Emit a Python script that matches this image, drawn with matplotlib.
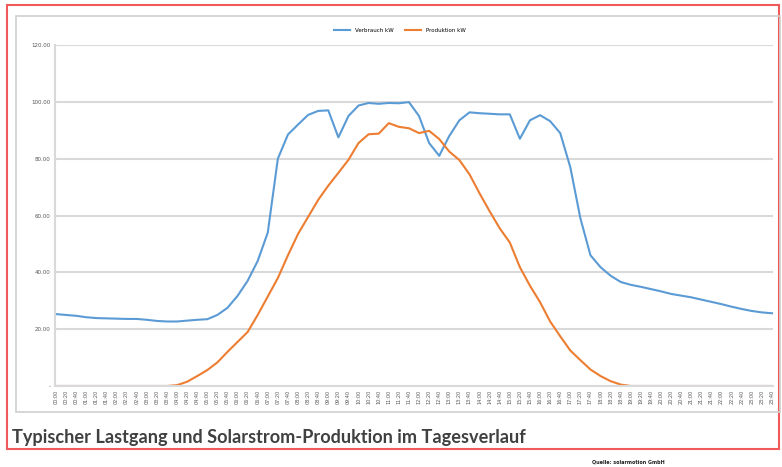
import matplotlib
matplotlib.use("Agg")
import matplotlib.pyplot as plt
from matplotlib.patches import Rectangle

# time labels, every 20 minutes
times = ["%02d:%02d" % (h, m) for h in range(24) for m in (0, 20, 40)]

verbrauch = [25.3, 25.0, 24.7, 24.2, 23.9, 23.8, 23.7, 23.6, 23.6, 23.3,
             22.9, 22.7, 22.7, 23.0, 23.3, 23.5, 25.0, 27.5, 31.7, 37.0,
             44.0, 54.0, 80.0, 88.5, 92.0, 95.4, 96.8, 97.0, 87.5, 95.0,
             98.7, 99.6, 99.3, 99.6, 99.5, 99.9, 95.0, 85.5, 81.0, 88.0,
             93.5, 96.3, 96.0, 95.8, 95.6, 95.6, 87.0, 93.5, 95.3, 93.2,
             89.0, 77.0, 59.0, 46.0, 41.8, 38.8, 36.6, 35.6, 34.9, 34.1,
             33.3, 32.4, 31.8, 31.2, 30.4, 29.6, 28.8, 27.9, 27.1, 26.4,
             25.9, 25.6]

produktion = [0, 0, 0, 0, 0, 0, 0, 0, 0, 0,
              0, 0, 0.3, 1.5, 3.5, 5.6, 8.3, 12.0, 15.5, 19.0,
              25.0, 31.5, 38.0, 46.0, 53.5, 59.5, 65.5, 70.5, 75.0, 79.6,
              85.5, 88.6, 88.8, 92.5, 91.2, 90.7, 89.0, 89.8, 86.9, 82.5,
              79.5, 74.5, 67.8, 61.5, 55.5, 50.5, 41.8, 35.3, 29.5, 22.7,
              17.5, 12.5, 9.1, 5.8, 3.5, 1.7, 0.5, 0, 0, 0,
              0, 0, 0, 0, 0, 0, 0, 0, 0, 0,
              0, 0]

yticks = [0, 20, 40, 60, 80, 100, 120]
ylabels = ["-", "20.00", "40.00", "60.00", "80.00", "100.00", "120.00"]

W, H = 782, 467
fig = plt.figure(figsize=(W / 100, H / 100), dpi=100)

# outer red frame and inner chart box
fig.patches.append(Rectangle((7 / W, 1 - 449 / H), 772 / W, 444 / H,
                             transform=fig.transFigure, fill=False,
                             edgecolor="#f05a5a", linewidth=1.5))
fig.patches.append(Rectangle((16 / W, 1 - 412 / H), 764 / W, 396 / H,
                             transform=fig.transFigure, fill=False,
                             edgecolor="#d0d0d0", linewidth=1.2))

ax = fig.add_axes([55 / W, 1 - 386 / H, 718 / W, 341 / H])
x = list(range(len(times)))
ax.plot(x, verbrauch, color="#5b9bd5", lw=1.5, label="Verbrauch kW")
ax.plot(x, produktion, color="#ed7d31", lw=1.5, label="Produktion kW")

ax.set_xlim(-0.1, len(times) - 0.9)
ax.set_ylim(0, 120)
ax.set_yticks(yticks)
ax.set_yticklabels(ylabels, fontsize=4, color="#555555")
ax.set_xticks(x)
ax.set_xticklabels(times, rotation=90, fontsize=3.5, color="#555555")
ax.tick_params(length=0, pad=3)
ax.grid(axis="y", color="#d9d9d9", lw=1.5)
ax.set_axisbelow(True)
for s in ["top", "right"]:
    ax.spines[s].set_visible(False)
ax.spines["left"].set_color("#d9d9d9")
ax.spines["bottom"].set_color("#d9d9d9")
ax.spines["left"].set_linewidth(1.5)
ax.spines["bottom"].set_linewidth(1.5)

ax.legend(loc="lower center", bbox_to_anchor=(0.48, 1.02), ncol=2,
          frameon=False, fontsize=4, handlelength=3, columnspacing=2)

fig.text(12 / W, 1 - 437 / H, "Typischer Lastgang und Solarstrom-Produktion im Tagesverlauf",
         fontsize=13.1, fontweight="bold", family="Lato", color="#404040",
         va="center", ha="left")
fig.text(592 / W, 1 - 462 / H, "Quelle: solarmotion GmbH", fontsize=3.5,
         fontweight="bold", color="#222222", va="center", ha="left")

fig.savefig("out.png", dpi=100)
